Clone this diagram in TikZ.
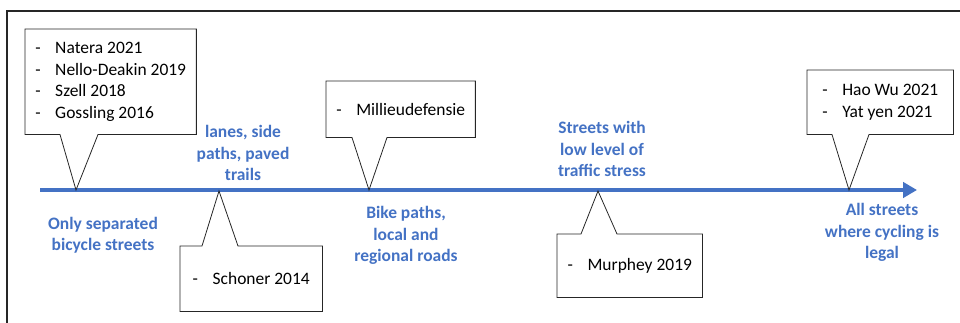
\documentclass[tikz,border=0pt]{standalone}
\usepackage{fontspec}
\setmainfont{Carlito}
\usetikzlibrary{arrows.meta,calc}

\definecolor{lineblue}{RGB}{68,114,196}
\newcommand{\itm}[1]{\makebox[15pt][l]{-}#1}

\begin{document}
\begin{tikzpicture}[x=0.75pt, y=-0.75pt,
    refbox/.style={anchor=north west, align=left, inner xsep=7.5pt, inner ysep=0pt,
        font=\fontsize{13.1pt}{16.2pt}\selectfont},
    callout/.style={draw=black!85, line width=0.6pt, line join=miter},
    stage/.style={align=center, text=lineblue, inner sep=0pt,
        font=\fontsize{13.1pt}{16pt}\selectfont\bfseries}]
	\useasboundingbox (0,0) rectangle (960,323);
	% frame
	\draw[black!85, line width=1.1pt] (7,323) -- (7,11) -- (960,11);
	% axis
	\coordinate (ax0) at (40,190);
	\coordinate (ax1) at (917,190);
	\draw[lineblue, line width=3pt, -{Triangle[length=10.5pt,width=11.5pt]}] (ax0) -- (ax1);
	\coordinate (t1) at (76,190);
	\coordinate (t2) at (219,191);
	\coordinate (t3) at (369,190);
	\coordinate (t4) at (598,191);
	\coordinate (t5) at (849,190);
	% reference boxes
	\node[refbox, minimum width=127.5pt, minimum height=78.75pt] (b1) at (25,29)
		{\itm{Natera 2021}\\ \itm{Nello-Deakin 2019}\\ \itm{Szell 2018}\\ \itm{Gossling 2016}};
	\node[refbox, minimum width=106.5pt, minimum height=48.75pt] (b2) at (180,246)
		{\itm{Schoner 2014}};
	\node[refbox, minimum width=111pt, minimum height=42pt] (b3) at (326,81)
		{\itm{Millieudefensie}};
	\node[refbox, minimum width=108.75pt, minimum height=47.25pt] (b4) at (557,234)
		{\itm{Murphey 2019}};
	\node[refbox, minimum width=109.5pt, minimum height=48pt] (b5) at (807,70)
		{\itm{Hao Wu 2021}\\ \itm{Yat yen 2021}};
	% callout outlines
	\draw[callout] (b1.south west) -- ($(b1.south west)+(35,0)$) -- (t1) -- ($(b1.south west)+(73,0)$)
		-- (b1.south east) -- (b1.north east) -- (b1.north west) -- cycle;
	\draw[callout] (b2.north west) -- ($(b2.north west)+(22,0)$) -- (t2) -- ($(b2.north west)+(58,0)$)
		-- (b2.north east) -- (b2.south east) -- (b2.south west) -- cycle;
	\draw[callout] (b3.south west) -- ($(b3.south west)+(26,0)$) -- (t3) -- ($(b3.south west)+(61,0)$)
		-- (b3.south east) -- (b3.north east) -- (b3.north west) -- cycle;
	\draw[callout] (b4.north west) -- ($(b4.north west)+(24,0)$) -- (t4) -- ($(b4.north west)+(60,0)$)
		-- (b4.north east) -- (b4.south east) -- (b4.south west) -- cycle;
	\draw[callout] (b5.south west) -- ($(b5.south west)+(25,0)$) -- (t5) -- ($(b5.south west)+(62,0)$)
		-- (b5.south east) -- (b5.north east) -- (b5.north west) -- cycle;
	% stage labels
	\node[stage] (s1) at (103,235.5) {Only separated\\bicycle streets};
	\node[stage] (s2) at (243,153) {lanes, side\\paths, paved\\trails};
	\node[stage] (s3) at (406,235.5) {Bike paths,\\local and\\regional roads};
	\node[stage] (s4) at (602,149) {Streets with\\low level of\\traffic stress};
	\node[stage] (s5) at (882,232.5) {All streets\\where cycling is\\legal};
\end{tikzpicture}
\end{document}
